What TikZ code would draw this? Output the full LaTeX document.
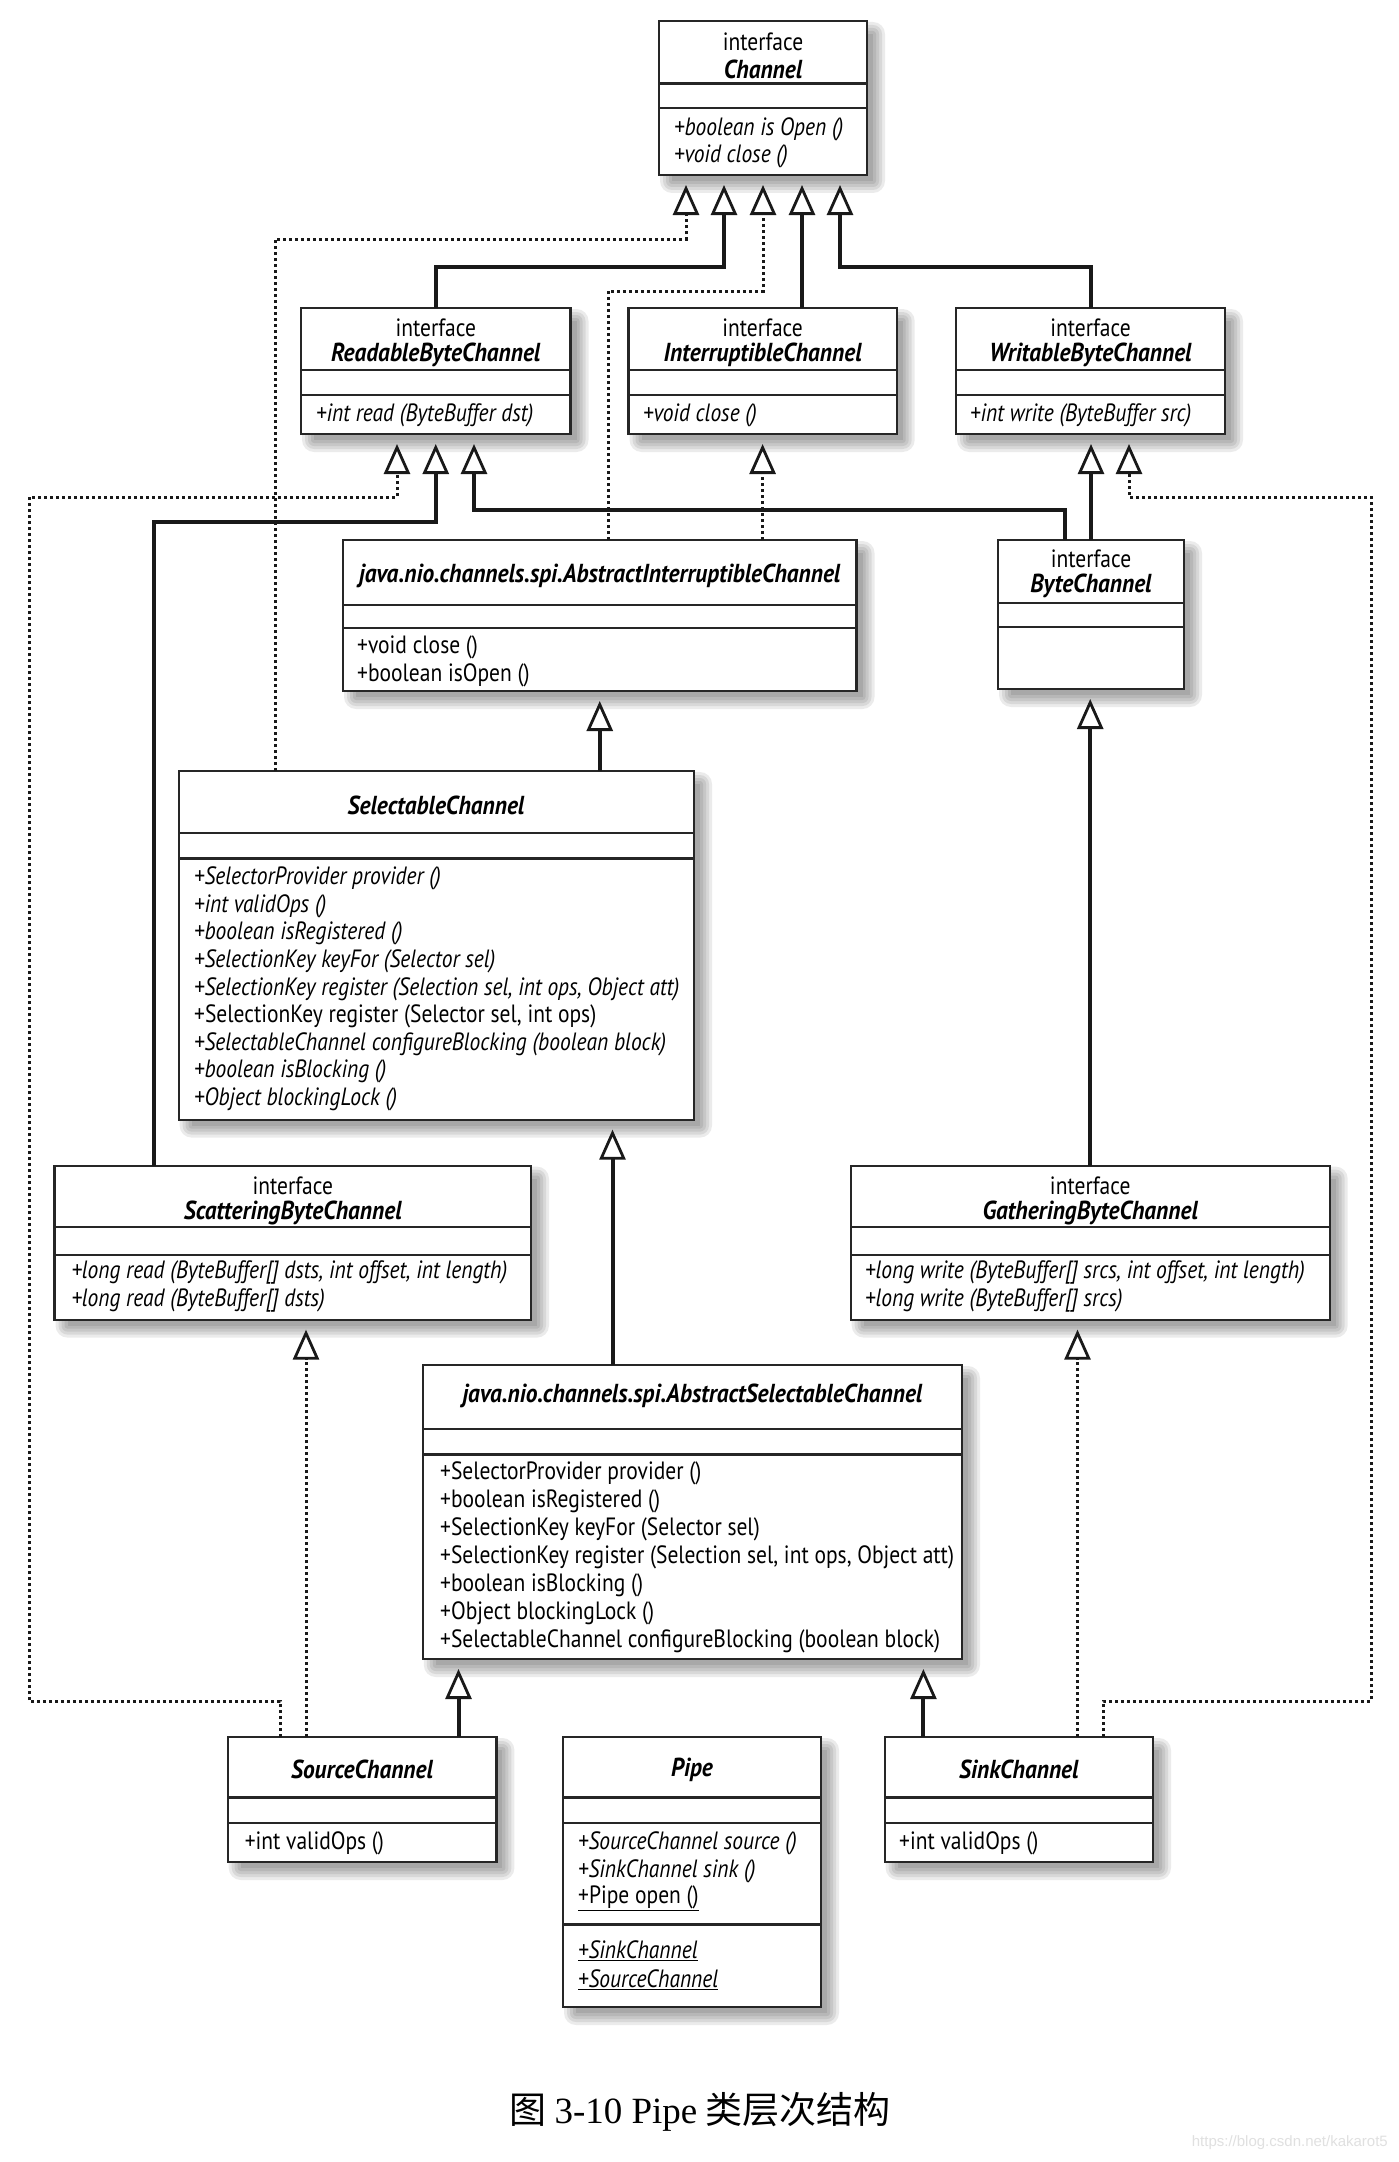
\documentclass[tikz,border=0pt]{standalone}
\usepackage{fontspec}
\setmainfont{PT Sans}[FakeStretch=0.86]
\newfontfamily\namefont{PT Sans}[FakeStretch=0.9]
\newfontfamily\cjk{Noto Sans CJK SC}
\newfontfamily\capserif{Liberation Serif}
\newfontfamily\wmfont{Liberation Sans}
\usetikzlibrary{arrows.meta}
\newcommand\mfont{\fontsize{25}{27.6}\selectfont}
\newcommand\nfont{\namefont\fontsize{26}{27.6}\selectfont}
\newcommand\umlbox[5]{%
  \foreach \k in {0,3,6,9,12}{\fill[black,opacity=0.08,rounded corners=\k pt] (#2+13-\k,#3+13-\k) rectangle (#4+6+\k,#5+6+\k);}
  \node[umlshape, minimum width={(#4-#2)*1pt}, minimum height={(#5-#3)*1pt}, anchor=north west] (#1) at (#2,#3) {};
}
\tikzset{
  umlshape/.style={draw=black!85, line width=2.2pt, fill=white, rectangle, inner sep=0pt, outer sep=0pt},
  div/.style={draw=black!85, line width=2.2pt},
  lbl/.style={inner sep=0pt, anchor=west, font=\mfont},
  ttl/.style={inner sep=0pt, anchor=center, font=\mfont},
  nm/.style={inner sep=0pt, anchor=center, font=\nfont\bfseries\itshape},
  gen/.style={draw=black!90, line width=4pt, -{Triangle[width=26pt,length=30pt,fill=white,line width=2.8pt]}, shorten >=10pt},
  real/.style={gen, line width=3pt, dash pattern=on 3pt off 3pt},
}
\begin{document}
\begin{tikzpicture}[x=1pt,y=-1pt]
\useasboundingbox (0,0) rectangle (1398,2162);
\fill[white] (0,0) rectangle (1398,2162);

% ---------- boxes ----------
\umlbox{channel}{659}{21}{867}{175}
\umlbox{readable}{301}{308}{570.5}{434}
\umlbox{interruptible}{628.5}{308}{896.7}{434}
\umlbox{writable}{956}{308}{1225}{434}
\umlbox{abstractInt}{343}{540}{856.5}{691}
\umlbox{byteChannel}{998}{540}{1184}{689}
\umlbox{selectable}{178.6}{771}{694}{1119.6}
\umlbox{scattering}{54.5}{1165.6}{531}{1319.6}
\umlbox{gathering}{850.7}{1165.6}{1329.7}{1319.6}
\umlbox{abstractSel}{422.8}{1365}{962}{1659}
\umlbox{source}{227.7}{1737}{496.4}{1862}
\umlbox{pipe}{563}{1737}{821}{2007}
\umlbox{sink}{884.6}{1737}{1153}{1862}

% ---------- dividers ----------
\draw[div] (channel.west |- 0,83.5) -- (channel.east |- 0,83.5);
\draw[div] (channel.west |- 0,108) -- (channel.east |- 0,108);
\foreach \b in {readable,interruptible,writable}{
  \draw[div] (\b.west |- 0,370) -- (\b.east |- 0,370);
  \draw[div] (\b.west |- 0,395) -- (\b.east |- 0,395);
}
\draw[div] (abstractInt.west |- 0,605) -- (abstractInt.east |- 0,605);
\draw[div] (abstractInt.west |- 0,628) -- (abstractInt.east |- 0,628);
\draw[div] (byteChannel.west |- 0,603) -- (byteChannel.east |- 0,603);
\draw[div] (byteChannel.west |- 0,627) -- (byteChannel.east |- 0,627);
\draw[div] (selectable.west |- 0,832.6) -- (selectable.east |- 0,832.6);
\draw[div] (selectable.west |- 0,858.5) -- (selectable.east |- 0,858.5);
\foreach \b in {scattering,gathering}{
  \draw[div] (\b.west |- 0,1226.8) -- (\b.east |- 0,1226.8);
  \draw[div] (\b.west |- 0,1255) -- (\b.east |- 0,1255);
}
\draw[div] (abstractSel.west |- 0,1429) -- (abstractSel.east |- 0,1429);
\draw[div] (abstractSel.west |- 0,1454.5) -- (abstractSel.east |- 0,1454.5);
\foreach \b in {source,pipe,sink}{
  \draw[div] (\b.west |- 0,1797.5) -- (\b.east |- 0,1797.5);
  \draw[div] (\b.west |- 0,1823) -- (\b.east |- 0,1823);
}
\draw[div] (pipe.west |- 0,1924.5) -- (pipe.east |- 0,1924.5);

% ---------- texts ----------
\node[ttl] (t1) at (763,42) {interface};
\node[nm] (t2) at (763,69) {Channel};
\node[lbl,font=\mfont\itshape] (t3) at (674,129) {+boolean is Open ()};
\node[lbl,font=\mfont\itshape] (t4) at (674,156) {+void close ()};

\node[ttl] (t5) at (435.75,328) {interface};
\node[nm] (t6) at (435.75,355) {ReadableByteChannel};
\node[lbl,font=\mfont\itshape] (t7) at (316,415) {+int read (ByteBuffer dst)};

\node[ttl] (t8) at (762.6,328) {interface};
\node[nm] (t9) at (762.6,355) {InterruptibleChannel};
\node[lbl,font=\mfont\itshape] (t10) at (643,415) {+void close ()};

\node[ttl] (t11) at (1090.5,328) {interface};
\node[nm] (t12) at (1090.5,355) {WritableByteChannel};
\node[lbl,font=\mfont\itshape] (t13) at (970,415) {+int write (ByteBuffer src)};

\node[nm] (t14) at (599.75,576) {java.nio.channels.spi.AbstractInterruptibleChannel};
\node[lbl] (t15) at (357,647) {+void close ()};
\node[lbl] (t16) at (357,675) {+boolean isOpen ()};

\node[ttl] (t17) at (1091,559) {interface};
\node[nm] (t18) at (1091,586) {ByteChannel};

\node[nm] (t19) at (436,805) {SelectableChannel};
\node[lbl,font=\mfont\itshape] (s1) at (194,878.6) {+SelectorProvider provider ()};
\node[lbl,font=\mfont\itshape] (s2) at (194,906.2) {+int validOps ()};
\node[lbl,font=\mfont\itshape] (s3) at (194,933.8) {+boolean isRegistered ()};
\node[lbl,font=\mfont\itshape] (s4) at (194,961.4) {+SelectionKey keyFor (Selector sel)};
\node[lbl,font=\mfont\itshape] (s5) at (194,989.0) {+SelectionKey register (Selection sel, int ops, Object att)};
\node[lbl] (s6) at (194,1016.6) {+SelectionKey register (Selector sel, int ops)};
\node[lbl,font=\mfont\itshape] (s7) at (194,1044.2) {+SelectableChannel configureBlocking (boolean block)};
\node[lbl,font=\mfont\itshape] (s8) at (194,1071.8) {+boolean isBlocking ()};
\node[lbl,font=\mfont\itshape] (s9) at (194,1099.4) {+Object blockingLock ()};

\node[ttl] (t20) at (292.75,1185.7) {interface};
\node[nm] (t21) at (292.75,1213) {ScatteringByteChannel};
\node[lbl,font=\mfont\itshape] (t22) at (71.4,1272.8) {+long read (ByteBuffer[] dsts, int offset, int length)};
\node[lbl,font=\mfont\itshape] (t23) at (71.4,1300.4) {+long read (ByteBuffer[] dsts)};

\node[ttl] (t24) at (1090.2,1185.7) {interface};
\node[nm] (t25) at (1090.2,1213) {GatheringByteChannel};
\node[lbl,font=\mfont\itshape] (t26) at (865,1272.8) {+long write (ByteBuffer[] srcs, int offset, int length)};
\node[lbl,font=\mfont\itshape] (t27) at (865,1300.4) {+long write (ByteBuffer[] srcs)};

\node[nm] (t28) at (692.4,1396) {java.nio.channels.spi.AbstractSelectableChannel};
\node[lbl] (a1) at (440,1473.7) {+SelectorProvider provider ()};
\node[lbl] (a2) at (440,1501.6) {+boolean isRegistered ()};
\node[lbl] (a3) at (440,1529.5) {+SelectionKey keyFor (Selector sel)};
\node[lbl] (a4) at (440,1557.4) {+SelectionKey register (Selection sel, int ops, Object att)};
\node[lbl] (a5) at (440,1585.3) {+boolean isBlocking ()};
\node[lbl] (a6) at (440,1613.2) {+Object blockingLock ()};
\node[lbl] (a7) at (440,1641.1) {+SelectableChannel configureBlocking (boolean block)};

\node[nm] (t29) at (362,1769.6) {SourceChannel};
\node[lbl] (t30) at (244.6,1843) {+int validOps ()};

\node[nm] (t31) at (692,1770) {Pipe};
\node[lbl,font=\mfont\itshape] (p1) at (578,1843) {+SourceChannel source ()};
\node[lbl,font=\mfont\itshape] (p2) at (578,1871) {+SinkChannel sink ()};
\node[lbl] (p3) at (578,1898.6) {\underline{+Pipe open ()}};
\node[lbl,font=\mfont\itshape] (p4) at (578,1951) {\underline{+SinkChannel}};
\node[lbl,font=\mfont\itshape] (p5) at (578,1979.5) {\underline{+SourceChannel}};

\node[nm] (t32) at (1018.8,1769.6) {SinkChannel};
\node[lbl] (t33) at (899,1843) {+int validOps ()};

% ---------- ports and bends ----------
\coordinate (pSelA) at ([xshift=96.4pt]selectable.north west);
\coordinate (bA) at (686,239);
\coordinate (bB) at (724,266.5);
\coordinate (pAIc) at ([xshift=265pt]abstractInt.north west);
\coordinate (bC) at (763,291);
\coordinate (pInt) at ([xshift=173.5pt]interruptible.north west);
\coordinate (bE) at (840,266.5);
\coordinate (pSrcL) at ([xshift=52.3pt]source.north west);
\coordinate (bF1) at (29,1701);
\coordinate (bF2) at (397,497);
\coordinate (pScat) at ([xshift=99.5pt]scattering.north west);
\coordinate (bG) at (435.75,522);
\coordinate (pByteL) at ([xshift=67pt]byteChannel.north west);
\coordinate (bH) at (474,510);
\coordinate (pSinkR) at ([xshift=218.4pt]sink.north west);
\coordinate (bK1) at (1371,1701);
\coordinate (bK2) at (1129,497);
\coordinate (pAS) at ([xshift=189.7pt]abstractSel.north west);
\coordinate (pSrcS) at ([xshift=78.3pt]source.north west);
\coordinate (pSinkG) at ([xshift=192.9pt]sink.north west);
\coordinate (pSrcA) at ([xshift=230.8pt]source.north west);
\coordinate (pSinkA) at ([xshift=38.8pt]sink.north west);

% ---------- connectors ----------
\draw[real] (pSelA) |- (bA) -- (bA |- channel.south);
\draw[gen] (readable.north) |- (bB) -- (bB |- channel.south);
\draw[real] (pAIc) |- (bC) -- (bC |- channel.south);
\draw[gen] (pInt) -- (pInt |- channel.south);
\draw[gen] (writable.north) |- (bE) -- (bE |- channel.south);

\draw[real] (pSrcL) |- (bF1) |- (bF2) -- (bF2 |- readable.south);
\draw[gen] (pScat) |- (bG) -- (bG |- readable.south);
\draw[gen] (pByteL) |- (bH) -- (bH |- readable.south);
\draw[real] (interruptible.south |- abstractInt.north) -- (interruptible.south);
\draw[gen] (byteChannel.north) -- (byteChannel.north |- writable.south);
\draw[real] (pSinkR) |- (bK1) |- (bK2) -- (bK2 |- writable.south);

\draw[gen] (abstractInt.south |- selectable.north) -- (abstractInt.south);
\draw[gen] (gathering.north) -- (gathering.north |- byteChannel.south);
\draw[gen] (pAS) -- (pAS |- selectable.south);
\draw[real] (pSrcS) -- (pSrcS |- scattering.south);
\draw[real] (pSinkG) -- (pSinkG |- gathering.south);
\draw[gen] (pSrcA) -- (pSrcA |- abstractSel.south);
\draw[gen] (pSinkA) -- (pSinkA |- abstractSel.south);

% ---------- caption ----------
\node[inner sep=0pt, font=\fontsize{37}{44}\selectfont] (cap) at (700,2112) {{\cjk 图} {\capserif 3-10 Pipe} {\cjk 类层次结构}};
\node[inner sep=0pt, anchor=east, text=black!12, font=\wmfont\fontsize{15}{18}\selectfont] (wm) at (1388,2143) {https://blog.csdn.net/kakarot5};
\end{tikzpicture}
\end{document}
